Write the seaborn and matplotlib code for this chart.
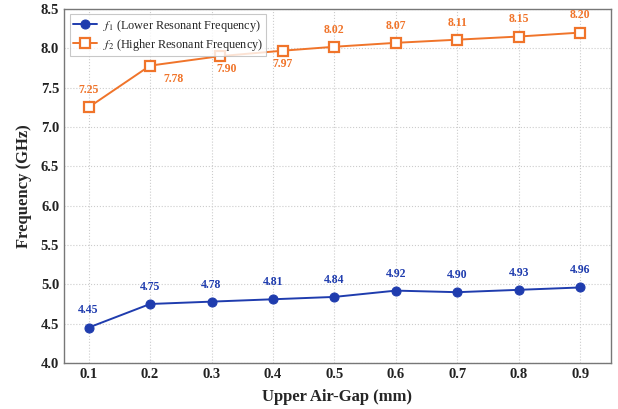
import matplotlib
matplotlib.use("Agg")
import matplotlib.pyplot as plt
import seaborn as sns
import pandas as pd

gap_f1 = [0.1, 0.2, 0.3, 0.4, 0.5, 0.6, 0.7, 0.8, 0.9]
gap_f2 = [0.1, 0.2, 0.313, 0.416, 0.5, 0.6, 0.7, 0.8, 0.9]
f1 = [4.45, 4.75, 4.78, 4.81, 4.84, 4.92, 4.90, 4.93, 4.96]
f2 = [7.25, 7.78, 7.90, 7.97, 8.02, 8.07, 8.11, 8.15, 8.20]
xticks = [0.1, 0.2, 0.3, 0.4, 0.5, 0.6, 0.7, 0.8, 0.9]
yticks = [4.0, 4.5, 5.0, 5.5, 6.0, 6.5, 7.0, 7.5, 8.0, 8.5]

sns.set_theme(style="white")
plt.rcParams["font.family"] = ["Liberation Serif", "DejaVu Serif"]
plt.rcParams["mathtext.fontset"] = "stix"

blue = "#1f3cae"
orange = "#f0742a"

fig = plt.figure(figsize=(6.18, 4.09), dpi=100)
ax = fig.add_axes([0.1036, 0.1125, 0.885, 0.8655])

df1 = pd.DataFrame({"x": gap_f1, "y": f1})
df2 = pd.DataFrame({"x": gap_f2, "y": f2})
sns.lineplot(data=df1, x="x", y="y", ax=ax, color=blue, marker="o", markersize=6.5,
             markeredgecolor=blue, markerfacecolor=blue, linewidth=1.4,
             label=r"$f_1$ (Lower Resonant Frequency)")
sns.lineplot(data=df2, x="x", y="y", ax=ax, color=orange, marker="s", markersize=7,
             markeredgecolor=orange, markerfacecolor="white", markeredgewidth=1.6,
             linewidth=1.4, label=r"$f_2$ (Higher Resonant Frequency)")

for x, y in zip(gap_f1, f1):
    ax.annotate(f"{y:.2f}", (x, y), xytext=(0, 8), textcoords="offset points",
                ha="center", va="bottom", color=blue, fontsize=8.5, fontweight="bold")

f2_offsets = [(0, 8, "bottom"), (17, -5, "top"), (5, -5, "top"), (0, -5, "top"),
              (0, 8, "bottom"), (0, 8, "bottom"), (0, 8, "bottom"), (0, 8, "bottom"), (0, 8, "bottom")]
for x, y, (dx, dy, va) in zip(gap_f2, f2, f2_offsets):
    ax.annotate(f"{y:.2f}", (x, y), xytext=(dx, dy), textcoords="offset points",
                ha="center", va=va, color=orange, fontsize=8.5, fontweight="bold")

ax.set_xlim(0.06, 0.95)
ax.set_ylim(4.0, 8.5)
ax.set_xticks(xticks)
ax.set_yticks(yticks)
ax.set_xticklabels([f"{t:.1f}" for t in xticks], fontsize=10.5, fontweight="bold")
ax.set_yticklabels([f"{t:.1f}" for t in yticks], fontsize=10.5, fontweight="bold")
ax.set_xlabel("Upper Air-Gap (mm)", fontsize=12, fontweight="bold", labelpad=6)
ax.set_ylabel("Frequency (GHz)", fontsize=12, fontweight="bold", labelpad=6)
ax.grid(True, linestyle=":", color="#cccccc", linewidth=0.8)
ax.tick_params(direction="in", length=3, width=0.8, colors="#555555", labelcolor="#222222")
for s in ax.spines.values():
    s.set_color("#777777")
    s.set_linewidth(1.0)

leg = ax.legend(loc="upper left", fontsize=8.8, frameon=True, fancybox=False,
                edgecolor="#bbbbbb", borderaxespad=0.45, handlelength=2.0,
                handletextpad=0.5, labelspacing=0.25, borderpad=0.25)
leg.get_frame().set_linewidth(0.8)

fig.savefig("out.png", dpi=100)
